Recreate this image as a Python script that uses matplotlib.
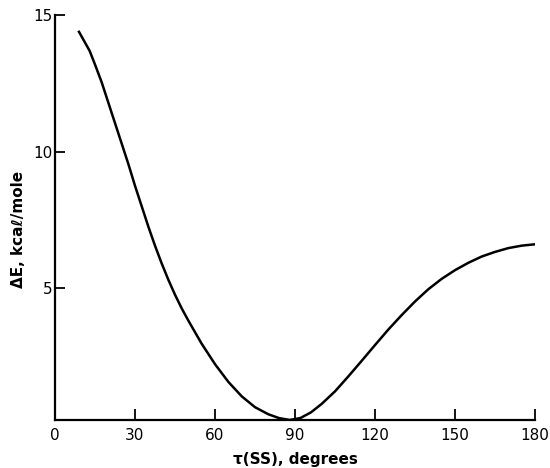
import matplotlib
matplotlib.use("Agg")
import matplotlib.pyplot as plt

# torsion angle tau(SS) in degrees vs energy in kcal/mole
tau_deg = [9, 11, 13, 15, 17.5, 20, 22.5, 25, 27.5, 30, 32.5, 35, 37.5, 40,
           42.5, 45, 47.5, 50, 55, 60, 65, 70, 75, 80, 84, 88, 92, 96, 100,
           105, 110, 115, 120, 125, 130, 135, 140, 145, 150, 155, 160, 165,
           170, 175, 180]
delta_e = [14.4, 14.05, 13.7, 13.2, 12.55, 11.8, 11.05, 10.3, 9.55, 8.75,
           8.0, 7.25, 6.55, 5.9, 5.3, 4.75, 4.25, 3.8, 2.95, 2.2, 1.55, 1.02,
           0.62, 0.36, 0.22, 0.15, 0.22, 0.43, 0.74, 1.2, 1.75, 2.32, 2.9,
           3.47, 4.0, 4.5, 4.95, 5.33, 5.65, 5.92, 6.15, 6.32, 6.46, 6.55,
           6.6]

x_ticks = [0, 30, 60, 90, 120, 150, 180]
y_ticks = [5, 10, 15]

fig = plt.figure(figsize=(5.5, 4.68), dpi=100)
ax = fig.add_axes([0.1, 0.1026, 0.8727, 0.8643])

ax.plot(tau_deg, delta_e, color="black", linewidth=1.8)

ax.set_xlim(0, 180)
ax.set_ylim(0.15, 15)
ax.set_xticks(x_ticks)
ax.set_yticks(y_ticks)

for side in ("top", "right"):
    ax.spines[side].set_visible(False)
for side in ("left", "bottom"):
    ax.spines[side].set_linewidth(1.6)

ax.tick_params(axis="x", direction="in", length=8, width=1.3, pad=6,
               labelsize=11)
ax.tick_params(axis="y", direction="in", length=7, width=1.3, pad=2,
               labelsize=11)

ax.set_xlabel("τ(SS), degrees", fontsize=11, fontweight="bold", labelpad=6)
ax.set_ylabel("ΔE, kcaℓ/mole", fontsize=11, fontweight="bold")
# label sits a little below the middle of the axis in the original
ax.yaxis.set_label_coords(-0.06, 0.47)

fig.savefig("out.png", dpi=100)
